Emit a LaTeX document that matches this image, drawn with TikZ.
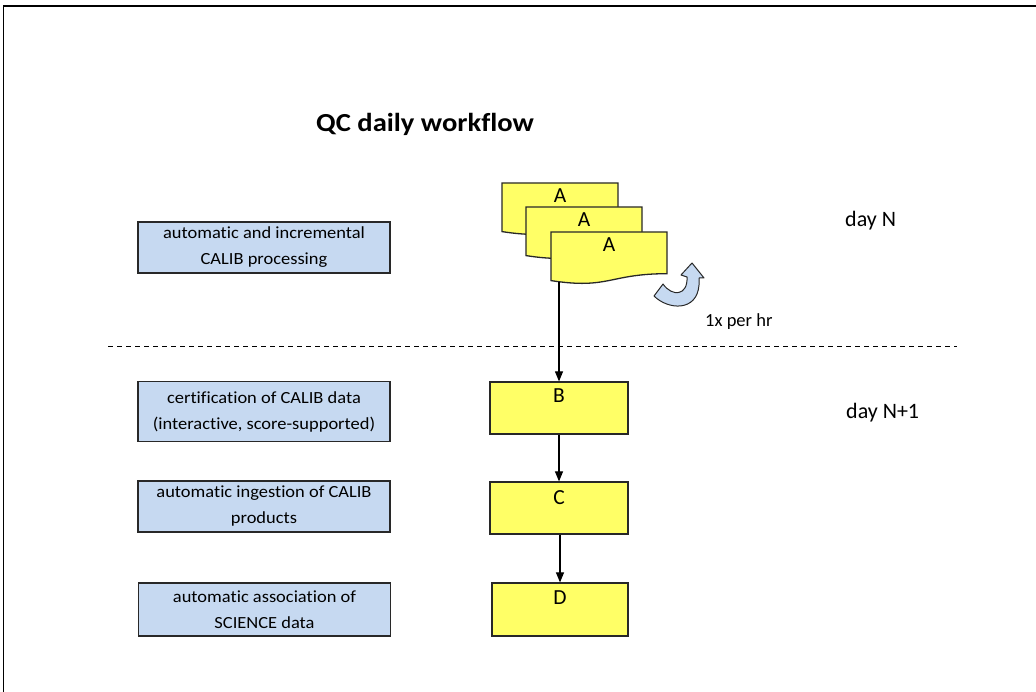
\documentclass[tikz,border=0pt]{standalone}
\usepackage{fontspec}
\setmainfont[Ligatures=NoCommon]{Carlito}
\newfontfamily\boxfont[Ligatures=NoCommon,FakeStretch=1.085]{Carlito}
\newfontfamily\titlefont[Ligatures=NoCommon,FakeStretch=1.1]{Carlito}
\usetikzlibrary{arrows.meta}
\definecolor{blueF}{RGB}{198,217,241}
\definecolor{yellowF}{RGB}{255,255,102}
\definecolor{edgeC}{RGB}{40,40,40}
\tikzset{
  bluebox/.style={draw=edgeC, fill=blueF, line width=1.2pt, minimum width=252pt, inner sep=0pt, align=center, font=\boxfont\fontsize{17}{26}\selectfont},
  ybox/.style={draw=edgeC, fill=yellowF, line width=1.2pt, minimum width=138pt, minimum height=52pt, inner sep=0pt},
  yletter/.style={anchor=north, inner sep=0pt, font=\fontsize{21.5}{22}\selectfont},
  docfill/.style={draw=edgeC, fill=yellowF, line width=1.3pt},
  conn/.style={line width=1.1pt, draw=black, -{Triangle[length=10pt,width=8pt]}},
  daytext/.style={anchor=base west, inner sep=0pt, font=\fontsize{22}{22}\selectfont},
}
\newcommand{\docpath}[2]{%
  (#1,#2) -- (#1+116,#2) -- (#1+116,#2+41.7) .. controls (#1+58,#2+41.7) and (#1+58,#2+57.6) .. (#1,#2+48.6) -- cycle}
\begin{document}
\begin{tikzpicture}[x=1pt,y=-1pt]
\useasboundingbox (0,0) rectangle (1036,692);
% frame
\draw[line width=2pt] (3,6) -- (1036,6);
\draw[line width=1.5pt] (3.5,6) -- (3.5,692);
% title
\node[anchor=base west, inner sep=0pt, font=\titlefont\fontsize{26}{26}\selectfont\bfseries] (title) at (316,132) {QC daily workflow};
% blue boxes
\node[bluebox, minimum height=51pt] (p1) at (264,247.5) {automatic and incremental\\CALIB processing};
\node[bluebox, minimum height=60pt] (p2) at (264,411.5) {certification of CALIB data\\(interactive, score-supported)};
\node[bluebox, minimum height=51pt] (p3) at (264,506.5) {automatic ingestion of CALIB\\products};
\node[bluebox, minimum height=53pt] (p4) at (264.5,609.5) {automatic association of\\SCIENCE data};
% documents A
\draw[docfill] \docpath{502}{183};
\node[yletter] (a1) at (560,189) {A};
\draw[docfill] \docpath{526}{207};
\node[yletter] (a2) at (584,213) {A};
\draw[docfill] \docpath{551}{232};
\node[yletter] (a3) at (609,238) {A};
\coordinate (a3b) at (559,282.5);
% yellow boxes
\node[ybox] (b) at (559,408) {};
\node[yletter] (bl) at (559,389) {B};
\node[ybox] (c) at (559,508) {};
\node[yletter] (cl) at (559,490) {C};
\node[ybox, minimum width=136pt, minimum height=53pt] (d) at (560,609.5) {};
\node[yletter] (dl) at (560,591) {D};
% connectors
\draw[conn] (a3b) -- (b.north);
\draw[conn] (b.south) -- (c.north);
\draw[conn] (d.north |- c.south) -- (d.north);
% dashed separator
\draw[line width=1pt, dash pattern=on 5pt off 4pt] (108,347) -- (957,347);
% circular arrow
\draw[draw=edgeC, fill=blueF, line width=1pt, line join=round]
  (663,284) -- (654,296)
  .. controls (668,310) and (697,312) .. (699,285)
  -- (699,278) -- (704,278) -- (692,263) -- (681,275) -- (687,277)
  .. controls (688,296) and (672,297) .. cycle;
% labels
\node[anchor=base west, inner sep=0pt, font=\fontsize{18.5}{18.5}\selectfont] (rate) at (705,327) {1x per hr};
\node[daytext] (dayn) at (845,227) {day N};
\node[daytext] (dayn1) at (846,418) {day N+1};
\end{tikzpicture}
\end{document}
